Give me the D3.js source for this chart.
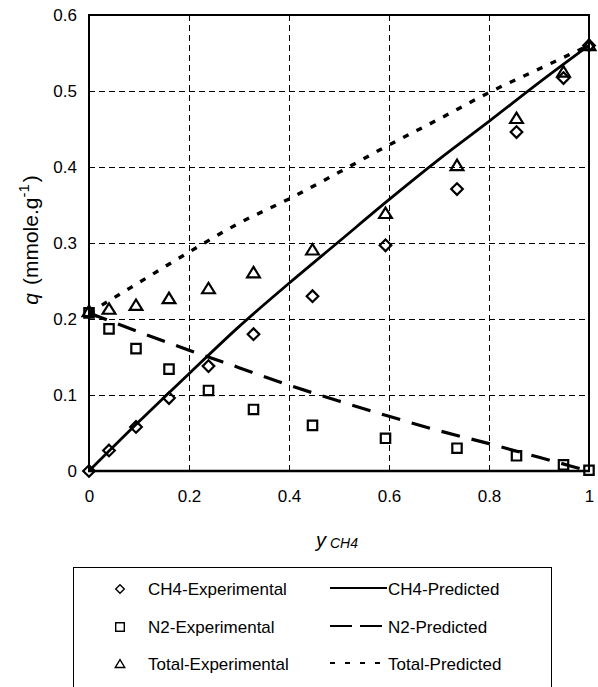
<!DOCTYPE html>
<html><head><meta charset="utf-8">
<script src="https://cdn.jsdelivr.net/npm/d3@7"></script>
<style>body{margin:0;background:#fff}svg{display:block;font-family:"Liberation Sans",Arial,sans-serif}</style>
</head><body><svg id="c" width="598" height="687"></svg>
<script>
// Experimental data
const expX      = [0, 0.04, 0.094, 0.16, 0.239, 0.329, 0.447, 0.593, 0.736, 0.855, 0.949, 1];
const ch4Exp    = [0, 0.027, 0.058, 0.096, 0.138, 0.180, 0.230, 0.297, 0.371, 0.446, 0.517, 0.560];
const n2Exp     = [0.208, 0.187, 0.161, 0.134, 0.106, 0.081, 0.060, 0.043, 0.030, 0.020, 0.008, 0.001];
const totalExp  = [0.210, 0.213, 0.218, 0.227, 0.240, 0.261, 0.291, 0.339, 0.402, 0.464, 0.525, 0.560];
// Predicted curves
const predX     = [0, 0.1, 0.2, 0.3, 0.4, 0.5, 0.6, 0.7, 0.8, 0.9, 1];
const ch4Pred   = [0, 0.065, 0.128, 0.190, 0.247, 0.302, 0.357, 0.410, 0.460, 0.511, 0.560];
const n2Pred    = [0.208, 0.183, 0.159, 0.136, 0.113, 0.092, 0.072, 0.053, 0.036, 0.018, 0];
const totalPred = [0.208, 0.248, 0.288, 0.326, 0.358, 0.393, 0.429, 0.463, 0.498, 0.529, 0.560];
const xTicks = [0, 0.2, 0.4, 0.6, 0.8, 1];
const yTicks = [0, 0.1, 0.2, 0.3, 0.4, 0.5, 0.6];

const svg = d3.select("#c");
const L = 89, R = 589, T = 15, B = 471;
const x = d3.scaleLinear().domain([0, 1]).range([L, R]);
const y = d3.scaleLinear().domain([0, 0.6]).range([B, T]);
const px = v => Math.round(v) + 0.5;

// grid
const g = svg.append("g");
g.selectAll(".vg").data(xTicks.slice(1, -1)).enter().append("line")
  .attr("x1", d => px(x(d))).attr("x2", d => px(x(d))).attr("y1", T).attr("y2", B)
  .attr("stroke", "#000").attr("stroke-width", 1).attr("stroke-dasharray", "6,4");
g.selectAll(".hg").data(yTicks.slice(1, -1)).enter().append("line")
  .attr("y1", d => px(y(d))).attr("y2", d => px(y(d))).attr("x1", L).attr("x2", R)
  .attr("stroke", "#000").attr("stroke-width", 1).attr("stroke-dasharray", "6,4");

// axes (labels only)
const xAxis = svg.append("g").attr("transform", `translate(0,${B})`)
  .call(d3.axisBottom(x).tickValues(xTicks).tickFormat(d3.format("")).tickSize(0).tickPadding(19));
const yAxis = svg.append("g").attr("transform", `translate(${L},0)`)
  .call(d3.axisLeft(y).tickValues(yTicks).tickFormat(d3.format("")).tickSize(0).tickPadding(12));
[xAxis, yAxis].forEach(a => {
  a.select(".domain").remove();
  a.selectAll("text").attr("font-size", 17).attr("fill", "#000")
    .attr("font-family", "'Liberation Sans', Arial, sans-serif");
});

// frame
svg.append("line").attr("x1", L - 1).attr("x2", R + 1).attr("y1", T).attr("y2", T).attr("stroke", "#000").attr("stroke-width", 2);
svg.append("line").attr("x1", L - 1).attr("x2", R + 1).attr("y1", B).attr("y2", B).attr("stroke", "#000").attr("stroke-width", 2.5);
svg.append("line").attr("x1", L).attr("x2", L).attr("y1", T).attr("y2", B).attr("stroke", "#000").attr("stroke-width", 2);
svg.append("line").attr("x1", R).attr("x2", R).attr("y1", T).attr("y2", B).attr("stroke", "#000").attr("stroke-width", 2);

// predicted lines
const line = vals => d3.line().x((d, i) => x(predX[i])).y(d => y(d)).curve(d3.curveMonotoneX)(vals);
svg.append("path").attr("d", line(ch4Pred)).attr("fill", "none").attr("stroke", "#000").attr("stroke-width", 2.8);
svg.append("path").attr("d", line(n2Pred)).attr("fill", "none").attr("stroke", "#000").attr("stroke-width", 3.2).attr("stroke-dasharray", "19,12");
svg.append("path").attr("d", line(totalPred)).attr("fill", "none").attr("stroke", "#000").attr("stroke-width", 3.4).attr("stroke-dasharray", "6,9");

// markers
const sym = {
  diamond: s => `M0,${-s}L${s},0L0,${s}L${-s},0Z`,
  square: s => `M${-s},${-s}H${s}V${s}H${-s}Z`,
  triangle: s => `M0,${-s}L${s * 1.1},${s * 0.8}H${-s * 1.1}Z`
};
function markers(vals, shape, size, sw) {
  svg.append("g").selectAll("path").data(vals).enter().append("path")
    .attr("transform", (d, i) => `translate(${x(expX[i])},${y(d)})`)
    .attr("d", sym[shape](size)).attr("fill", "none").attr("stroke", "#000").attr("stroke-width", sw);
}
markers(ch4Exp, "diamond", 5.8, 2.2);
markers(n2Exp, "square", 4.7, 2.2);
markers(totalExp, "triangle", 5.8, 2.2);

// axis titles
const yt = svg.append("text").attr("transform", "translate(38,240) rotate(-90)")
  .attr("text-anchor", "middle").attr("font-size", 21).attr("fill", "#000");
yt.append("tspan").attr("font-style", "italic").text("q");
yt.append("tspan").attr("dx", 8).text("(mmole.g");
yt.append("tspan").attr("dy", -9).attr("font-size", 15).text("-1");
yt.append("tspan").attr("dy", 9).attr("dx", 2).text(")");

const xt = svg.append("text").attr("x", 337).attr("y", 547).attr("text-anchor", "middle").attr("fill", "#000");
xt.append("tspan").attr("font-style", "italic").attr("font-size", 20).text("y");
xt.append("tspan").attr("font-style", "italic").attr("font-size", 14).attr("dx", 4).attr("dy", 1).text("CH4");

// legend
svg.append("rect").attr("x", 73.5).attr("y", 567.5).attr("width", 478).attr("height", 130)
  .attr("fill", "none").attr("stroke", "#000").attr("stroke-width", 1);
const legL = ["CH4-Experimental", "N2-Experimental", "Total-Experimental"];
const legR = ["CH4-Predicted", "N2-Predicted", "Total-Predicted"];
const legShapes = ["diamond", "square", "triangle"];
const legDash = [null, "22,8", "5,10"];
const rowY = [589, 627, 664];
legL.forEach((t, i) => {
  svg.append("path").attr("transform", `translate(120,${rowY[i]})`).attr("d", sym[legShapes[i]](4.3))
    .attr("fill", "none").attr("stroke", "#000").attr("stroke-width", 1.4);
  svg.append("text").attr("x", 148).attr("y", rowY[i] + 6).attr("font-size", 17).attr("fill", "#000").text(t);
});
legR.forEach((t, i) => {
  const l = svg.append("line").attr("x1", 330).attr("x2", 387).attr("y1", rowY[i] - 1).attr("y2", rowY[i] - 1)
    .attr("stroke", "#000").attr("stroke-width", 2);
  if (legDash[i]) l.attr("stroke-dasharray", legDash[i]);
  svg.append("text").attr("x", 388).attr("y", rowY[i] + 6).attr("font-size", 17).attr("fill", "#000").text(t);
});
</script></body></html>
